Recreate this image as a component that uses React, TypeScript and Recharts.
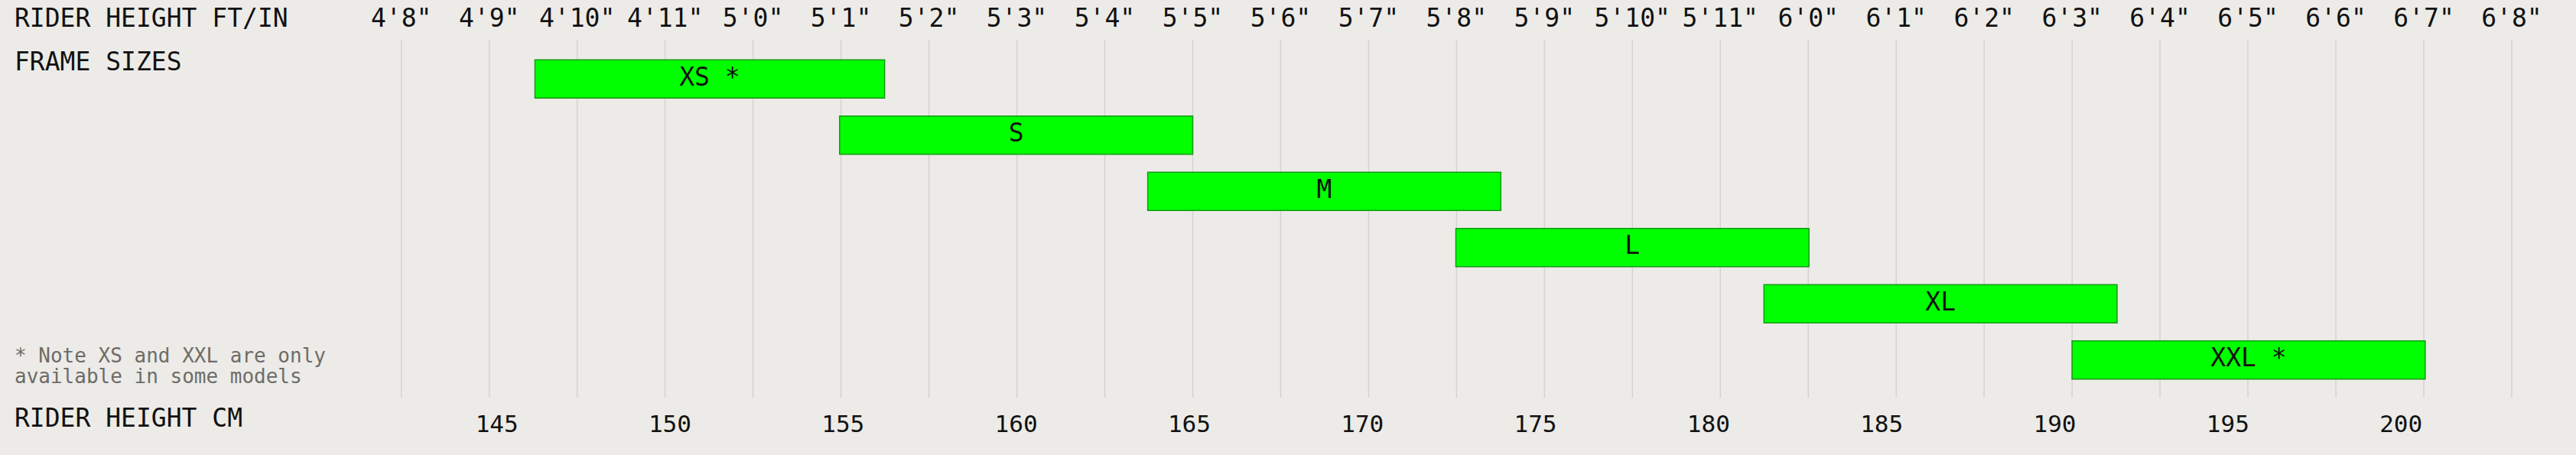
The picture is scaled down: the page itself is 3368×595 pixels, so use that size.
import React from 'react';
import { BarChart, Bar, XAxis, YAxis, CartesianGrid, LabelList } from 'recharts';

const sizes = ['XS', 'S', 'M', 'L', 'XL', 'XXL'];
const sizeLabels = ['XS *', 'S', 'M', 'L', 'XL', 'XXL *'];
const minCm = [146.1, 154.9, 163.8, 172.7, 181.6, 190.5];
const maxCm = [156.2, 165.1, 174.0, 182.9, 191.8, 200.7];

const inchTicks = [56, 57, 58, 59, 60, 61, 62, 63, 64, 65, 66, 67, 68, 69, 70, 71, 72, 73, 74, 75, 76, 77, 78, 79, 80];
const ftInLabels = [`4'8"`, `4'9"`, `4'10"`, `4'11"`, `5'0"`, `5'1"`, `5'2"`, `5'3"`, `5'4"`, `5'5"`, `5'6"`, `5'7"`, `5'8"`, `5'9"`, `5'10"`, `5'11"`, `6'0"`, `6'1"`, `6'2"`, `6'3"`, `6'4"`, `6'5"`, `6'6"`, `6'7"`, `6'8"`];
const cmTicks = [145, 150, 155, 160, 165, 170, 175, 180, 185, 190, 195, 200];

const data = sizes.map((s, i) => ({ size: s, label: sizeLabels[i], range: [minCm[i], maxCm[i]] }));

const FONT = '"DejaVu Sans Mono", monospace';
const BG = '#ecebe7';

const TopTick = (props: any) => {
  const { x, payload } = props;
  const idx = inchTicks.indexOf(payload.value);
  return (
    <text x={x} y={35} textAnchor="middle" fontFamily={FONT} fontSize={33} fill="#111">
      {ftInLabels[idx]}
    </text>
  );
};

const BottomTick = (props: any) => {
  const { x, payload } = props;
  return (
    <text x={x} y={565} textAnchor="middle" fontFamily={FONT} fontSize={31} fill="#111">
      {payload.value}
    </text>
  );
};

const BarLabel = (props: any) => {
  const { x, y, width, height, value } = props;
  return (
    <text
      x={Number(x) + Number(width) / 2}
      y={Number(y) + Number(height) / 2 + 8.5}
      textAnchor="middle"
      fontFamily={FONT}
      fontSize={33}
      fill="#111"
    >
      {value}
    </text>
  );
};

export default function App() {
  return (
    <div style={{ position: 'absolute', left: 0, top: 0, width: 3368, height: 595, background: BG, overflow: 'hidden' }}>
      <BarChart
        width={3368}
        height={595}
        data={data}
        layout="vertical"
        margin={{ top: 22, bottom: 45, left: 524.7, right: 84 }}
      >
        <CartesianGrid horizontal={false} xAxisId="in" stroke="#d4d3cf" strokeWidth={1.5} />
        <XAxis
          xAxisId="in"
          type="number"
          orientation="top"
          domain={[56, 80]}
          ticks={inchTicks}
          interval={0}
          height={30}
          axisLine={false}
          tickLine={false}
          tick={<TopTick />}
          allowDataOverflow
        />
        <XAxis
          xAxisId="cm"
          type="number"
          orientation="bottom"
          domain={[142.24, 203.2]}
          ticks={cmTicks}
          interval={0}
          height={30}
          axisLine={false}
          tickLine={false}
          tick={<BottomTick />}
          allowDataOverflow
        />
        <YAxis type="category" dataKey="size" hide padding={{ top: 14.25, bottom: 12.75 }} />
        <Bar
          xAxisId="cm"
          dataKey="range"
          barSize={50}
          fill="#00ff00"
          stroke="#159a15"
          strokeWidth={1.5}
          isAnimationActive={false}
        >
          <LabelList dataKey="label" content={<BarLabel />} />
        </Bar>
      </BarChart>
      <svg
        width={520}
        height={595}
        style={{ position: 'absolute', left: 0, top: 0, pointerEvents: 'none' }}
      >
        <text x={19} y={35} fontFamily={FONT} fontSize={33} fill="#111">RIDER HEIGHT FT/IN</text>
        <text x={19} y={92} fontFamily={FONT} fontSize={33} fill="#111">FRAME SIZES</text>
        <text x={19} y={474} fontFamily={FONT} fontSize={26} fill="#6e6c68">* Note XS and XXL are only</text>
        <text x={19} y={501} fontFamily={FONT} fontSize={26} fill="#6e6c68">available in some models</text>
        <text x={19} y={558} fontFamily={FONT} fontSize={33} fill="#111">RIDER HEIGHT CM</text>
      </svg>
    </div>
  );
}
